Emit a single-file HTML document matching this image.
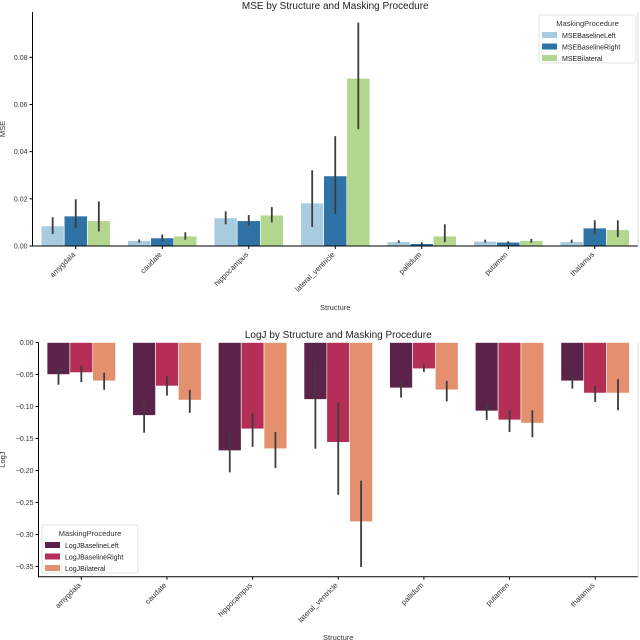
<!DOCTYPE html>
<html><head><meta charset="utf-8"><style>
body{margin:0;background:#fff;}
svg{display:block;font-family:"Liberation Sans","DejaVu Sans",sans-serif;}
</style></head><body>
<svg id="chart" width="640" height="640" viewBox="0 0 640 640" xmlns="http://www.w3.org/2000/svg"></svg>
<script>
const categories=["amygdala","caudate","hippocampus","lateral_ventricle","pallidum","putamen","thalamus"];
const mseSeries=["MSEBaselineLeft","MSEBaselineRight","MSEBilateral"];
const mseLeft=[0.0085,0.0023,0.0119,0.0182,0.0018,0.0020,0.0018];
const mseRight=[0.0127,0.0034,0.0107,0.0297,0.0010,0.0016,0.0076];
const mseBilat=[0.0107,0.0042,0.0131,0.0711,0.0042,0.0023,0.0069];
const mseLeftLo=[0.0051,0.0014,0.0092,0.0081,0.0013,0.0014,0.0013];
const mseLeftHi=[0.0122,0.0028,0.0147,0.0321,0.0024,0.0027,0.0027];
const mseRightLo=[0.0076,0.0020,0.0086,0.0136,0.0004,0.0010,0.0049];
const mseRightHi=[0.0198,0.0049,0.0131,0.0466,0.0016,0.0020,0.0109];
const mseBilatLo=[0.0062,0.0027,0.0100,0.0495,0.0016,0.0014,0.0038];
const mseBilatHi=[0.0189,0.0058,0.0165,0.0947,0.0092,0.0030,0.0109];
const mseTicks=[0,0.02,0.04,0.06,0.08];
const mseTickLabels=["0.00","0.02","0.04","0.06","0.08"];
const ljSeries=["LogJBaselineLeft","LogJBaselineRight","LogJBilateral"];
const ljLeft=[-0.050,-0.114,-0.169,-0.089,-0.071,-0.107,-0.060];
const ljRight=[-0.047,-0.068,-0.135,-0.156,-0.041,-0.121,-0.079];
const ljBilat=[-0.060,-0.090,-0.166,-0.280,-0.074,-0.126,-0.079];
const ljLeftLo=[-0.066,-0.141,-0.203,-0.166,-0.086,-0.121,-0.072];
const ljLeftHi=[-0.041,-0.090,-0.139,-0.029,-0.060,-0.094,-0.051];
const ljRightLo=[-0.062,-0.083,-0.163,-0.238,-0.046,-0.140,-0.093];
const ljRightHi=[-0.036,-0.053,-0.110,-0.094,-0.034,-0.106,-0.068];
const ljBilatLo=[-0.074,-0.110,-0.196,-0.351,-0.092,-0.148,-0.106];
const ljBilatHi=[-0.047,-0.074,-0.140,-0.216,-0.060,-0.106,-0.057];
const ljTicks=[0,-0.05,-0.10,-0.15,-0.20,-0.25,-0.30,-0.35];
const ljTickLabels=["0.00","\u22120.05","\u22120.10","\u22120.15","\u22120.20","\u22120.25","\u22120.30","\u22120.35"];

const NS="http://www.w3.org/2000/svg";
const svg=document.getElementById('chart');
function mk(tag,attrs,parent,text){const e=document.createElementNS(NS,tag);for(const k in attrs)e.setAttribute(k,attrs[k]);if(text!==undefined)e.textContent=text;(parent||svg).appendChild(e);return e;}

function panel(o){
  const g=mk('g',{});
  
  
  const y=v=>o.y0+(o.yMax-v)/(o.yMax-o.yMin)*(o.y1-o.y0);
  const step=(o.x1-o.x0)/categories.length;
  const xc=i=>o.x0+step*(i+0.5);
  const bw=step*0.8/3;
  const t=mk('text',{x:(o.x0+o.x1)/2,y:o.titleY,'text-anchor':'middle','font-size':10,fill:'#222'},g,o.title);
  
  
  for(let s=0;s<3;s++){
    for(let i=0;i<categories.length;i++){
      const v=o.vals[s][i];
      const bx=xc(i)-1.5*bw+s*bw;
      const r=mk('rect',{x:bx,y:Math.min(y(v),y(0)),width:bw,height:Math.abs(y(v)-y(0)),fill:o.colors[s],stroke:'#fff','stroke-width':0.6},g);
      
      
      const l=mk('line',{x1:bx+bw/2,x2:bx+bw/2,y1:y(o.lo[s][i]),y2:y(o.hi[s][i]),stroke:'#3d3d3d','stroke-width':1.8},g);
      
      
    }
  }
  // spines
  const sp=mk('path',{d:`M${o.x0},${o.y0} V${o.y1} H${o.x1}`,fill:'none',stroke:'#000','stroke-width':1},g);
  
  
  mk('path',{d:`M${o.x1},${o.y0} V${o.y1}`,fill:'none',stroke:'#ddd','stroke-width':1},g);
  for(let k=0;k<o.ticks.length;k++){
    const ty=y(o.ticks[k]);
    mk('line',{x1:o.x0-3,x2:o.x0,y1:ty,y2:ty,stroke:'#000'},g);
    const tl=mk('text',{x:o.x0-5,y:ty+2.5,'text-anchor':'end','font-size':7,fill:'#333'},g,o.tickLabels[k]);
    
    
  }
  for(let i=0;i<categories.length;i++){
    const x=xc(i);
    mk('line',{x1:x,x2:x,y1:o.y1,y2:o.y1+3,stroke:'#000'},g);
    const tl=mk('text',{x:x,y:o.y1+9,'text-anchor':'end','font-size':7.5,fill:'#333',transform:`rotate(-45 ${x} ${o.y1+9})`},g,categories[i]);
    
    
  }
  const xl=mk('text',{x:(o.x0+o.x1)/2,y:o.xlabY,'text-anchor':'middle','font-size':7.5,fill:'#333'},g,'Structure');
  
  
  const yl=mk('text',{x:5,y:(o.y0+o.y1)/2,'text-anchor':'middle','font-size':7.5,fill:'#333',transform:`rotate(-90 5 ${(o.y0+o.y1)/2})`},g,o.ylabel);
  
  
  // legend
  const lg=mk('g',{},g);
  
  
  mk('rect',{x:o.lx,y:o.ly,width:o.lw,height:48,fill:'#fff','fill-opacity':0.85,stroke:'#ddd','stroke-width':0.8,rx:2},lg);
  mk('text',{x:o.lx+o.lw/2,y:o.ly+11,'text-anchor':'middle','font-size':7.5,fill:'#333'},lg,'MaskingProcedure');
  for(let s=0;s<3;s++){
    const e=mk('g',{},lg);
    
    
    mk('rect',{x:o.lx+3,y:o.ly+17+s*11.5,width:15,height:6,fill:o.colors[s]},e);
    mk('text',{x:o.lx+23,y:o.ly+23+s*11.5,'font-size':7,fill:'#222'},e,o.series[s]);
  }
}
panel({name:'mse-panel',title:'MSE by Structure and Masking Procedure',titleY:9,x0:32.5,x1:638,y0:12,y1:246,yMin:0,yMax:0.0992,
  vals:[mseLeft,mseRight,mseBilat],lo:[mseLeftLo,mseRightLo,mseBilatLo],hi:[mseLeftHi,mseRightHi,mseBilatHi],
  colors:['#a9cbdf','#2e72a6','#b3d78f'],series:mseSeries,ticks:mseTicks,tickLabels:mseTickLabels,xlabY:310,ylabel:'MSE',lx:539,ly:15,lw:97});
panel({name:'logj-panel',title:'LogJ by Structure and Masking Procedure',titleY:338,x0:38.5,x1:638,y0:342.5,y1:576.7,yMin:-0.366,yMax:0,
  vals:[ljLeft,ljRight,ljBilat],lo:[ljLeftLo,ljRightLo,ljBilatLo],hi:[ljLeftHi,ljRightHi,ljBilatHi],
  colors:['#5c234a','#b52e56','#e4906f'],series:ljSeries,ticks:ljTicks,tickLabels:ljTickLabels,xlabY:640,ylabel:'LogJ',lx:42,ly:525,lw:96});
</script>
</body></html>
